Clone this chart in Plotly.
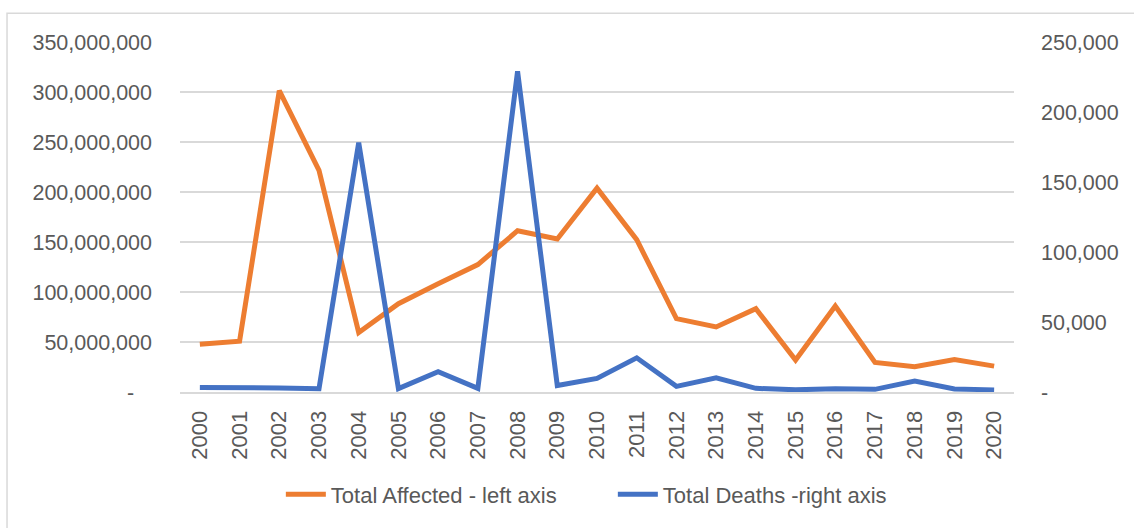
import plotly.graph_objects as go

years = [str(y) for y in range(2000, 2021)]
total_affected = [47.8e6, 50.8e6, 301.3e6, 221.7e6, 59.4e6, 88.3e6, 108.2e6, 127.4e6,
                  161.3e6, 153.0e6, 203.8e6, 152.3e6, 73.4e6, 65.1e6, 83.3e6, 31.9e6,
                  86.0e6, 29.6e6, 25.3e6, 32.5e6, 25.9e6]
total_deaths = [3300, 3300, 2900, 2400, 178100, 2400, 14500, 2600, 229100, 4600, 9700,
                24400, 4000, 10100, 2600, 1600, 2300, 1900, 7800, 2200, 1500]

left_ticks = [0, 50e6, 100e6, 150e6, 200e6, 250e6, 300e6, 350e6]
right_ticks = [0, 50000, 100000, 150000, 200000, 250000]

def fmt(v, pad):
    return ("-" + "\u00a0" * pad) if v == 0 else f"{int(v):,}"

ORANGE = "#ED7D31"
BLUE = "#4472C4"
GRID = "#D9D9D9"
TXT = "#595959"
FONT = "Liberation Sans, Arial, sans-serif"

fig = go.Figure()
fig.add_trace(go.Scatter(x=years, y=total_affected, name="Total Affected - left axis",
                         mode="lines", line=dict(color=ORANGE, width=5), yaxis="y"))
fig.add_trace(go.Scatter(x=years, y=total_deaths, name="Total Deaths -right axis",
                         mode="lines", line=dict(color=BLUE, width=5), yaxis="y2"))

fig.update_layout(
    width=1134, height=528,
    margin=dict(l=180, r=120, t=42, b=134),
    paper_bgcolor="white", plot_bgcolor="white",
    font=dict(family=FONT, size=21, color=TXT),
    showlegend=True,
    legend=dict(orientation="h", x=0.519, xanchor="center", y=-0.293, yanchor="middle",
                font=dict(size=22, color=TXT), itemwidth=40,
                entrywidth=277, entrywidthmode="pixels"),
    xaxis=dict(type="category", range=[-0.5, 20.5], tickangle=-90, showgrid=False,
               showline=True, linecolor=GRID, linewidth=2, ticks="",
               tickfont=dict(size=22, color=TXT), ticklabelstandoff=8),
    yaxis=dict(range=[0, 350e6], tickvals=left_ticks,
               ticktext=[fmt(v, 3) for v in left_ticks], showgrid=True, gridcolor=GRID,
               gridwidth=2, zeroline=False, ticks="", ticklabelstandoff=27,
               tickfont=dict(size=21.5, color=TXT)),
    yaxis2=dict(range=[0, 250000], tickvals=right_ticks,
                ticktext=[fmt(v, 0) for v in right_ticks], overlaying="y", side="right",
                showgrid=False, zeroline=False, ticks="", ticklabelstandoff=26,
                tickfont=dict(size=21.5, color=TXT)),
    shapes=[dict(type="rect", xref="paper", yref="paper", x0=-0.2074, x1=1.16,
                 y0=-0.42, y1=1.0824, line=dict(color="#D9D9D9", width=1.5),
                 fillcolor="rgba(0,0,0,0)", layer="below")],
)

fig.write_html("out.html", config={"displayModeBar": False},
               post_script="document.body.style.margin='0';")
